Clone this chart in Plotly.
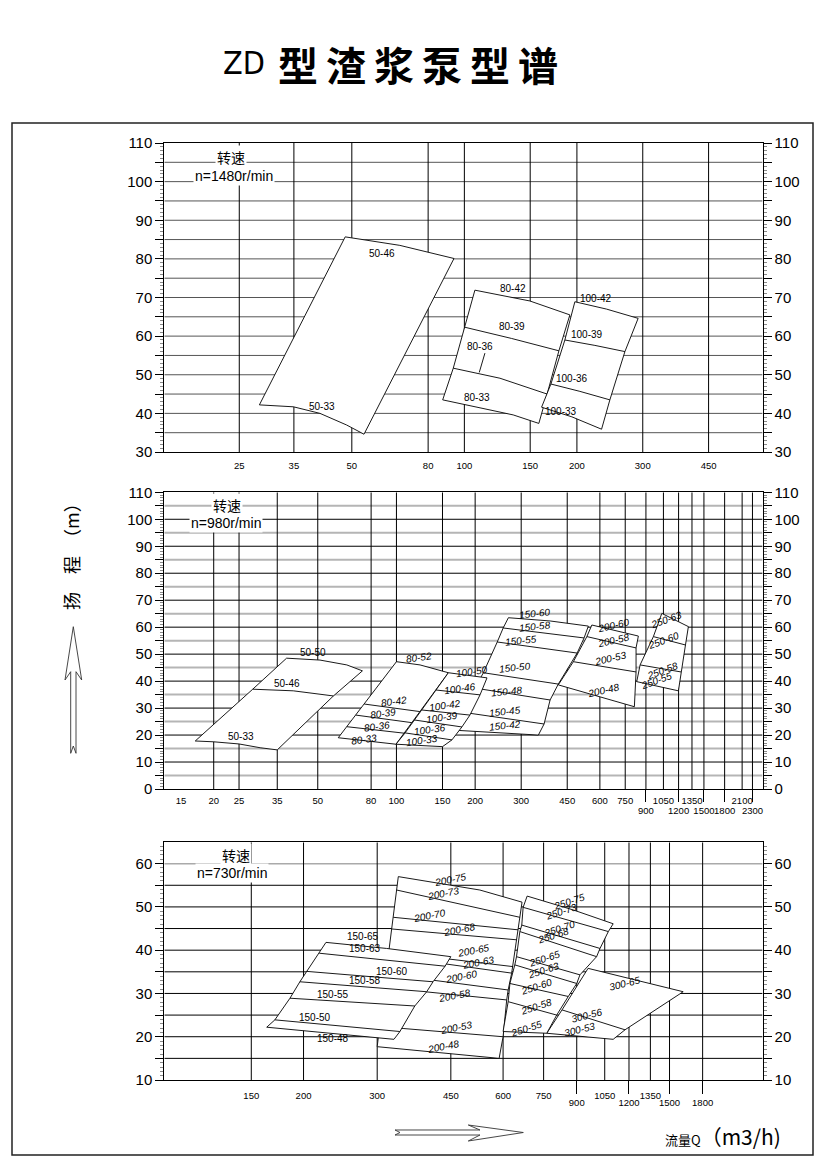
import math
import plotly.graph_objects as go

FIG_W, FIG_H = 827, 1170

# ---------------- axis ticks / grid values (Q in m3/h, H in m) ----------------
P1_TICKS = [25, 35, 50, 80, 100, 150, 200, 300, 450]
P1_GRID_Q = [25, 35, 50, 80, 100, 150, 200, 300, 450]
P2_TICKS_TOP = [15, 20, 25, 35, 50, 80, 100, 150, 200, 300, 450, 600, 750, 1050, 1350, 2100]
P2_TICKS_LOW = [900, 1200, 1500, 1800, 2300]
P2_GRID_Q = [20, 25, 35, 50, 80, 100, 150, 200, 300, 450, 600, 750, 900, 1050,
             1200, 1350, 1500, 1800, 2100, 2300]
P3_TICKS_TOP = [150, 200, 300, 450, 600, 750, 1050, 1350]
P3_TICKS_LOW = [900, 1200, 1500, 1800]
P3_GRID_Q = [150, 200, 300, 450, 600, 750, 900, 1050, 1200, 1350, 1500, 1800]

P1_H_TICKS = list(range(30, 111, 5))
P2_H_TICKS = list(range(0, 111, 5))
P3_H_TICKS = list(range(10, 61, 5))

# ---------------- n = 1480 r/min ----------------
P1_50 = {
    "50-46": ([48.0, 67.2, 93.8], [85.7, 83.5, 80.1]),
    "50-33": ([28.3, 34.9, 41.1, 48.4, 53.9], [42.2, 41.7, 40.0, 37.0, 34.6]),
}
P1_50_LABELS = [("50-46", 60.3, 81.3), ("50-33", 41.5, 41.9)]

P1_80 = {
    "80-42": ([106.7, 149.7, 191.5], [71.9, 69.1, 65.5]),
    "80-39": ([100.3, 133.7, 179.0], [62.3, 59.4, 56.2]),
    "80-36": ([93.4, 124.5, 166.5], [51.7, 49.1, 45.0]),
    "80-33": ([87.5, 100.3, 117.0, 135.1, 158.2], [43.5, 42.2, 40.9, 39.6, 37.4]),
}
P1_80_LABELS = [("80-42", 135.1, 72.4), ("80-39", 133.7, 62.6),
                ("80-36", 110.0, 57.3), ("80-33", 107.8, 44.2)]
P1_80_LEADER = ([113.5, 109.6], [55.6, 50.6])

P1_100 = {
    "100-42": ([197.5, 240.0, 291.6], [68.9, 67.0, 64.6]),
    "100-39": ([185.7, 223.4, 268.8], [59.0, 57.6, 56.0]),
    "100-36": ([170.4, 203.7, 245.0], [47.6, 45.7, 43.5]),
    "100-33": ([160.9, 193.9, 232.8], [41.6, 39.1, 35.9]),
}
P1_100_LABELS = [("100-42", 224.3, 69.8), ("100-39", 212.2, 60.5),
                 ("100-36", 193.5, 49.1), ("100-33", 180.9, 40.6)]

# ---------------- n = 980 r/min ----------------
P2_50 = {
    "50-50": ([38.0, 51.0, 64.6, 74.1], [48.5, 47.8, 46.0, 43.8]),
    "50-46": ([28.2, 40.3, 57.4], [37.0, 36.4, 34.5]),
    "50-33": ([17.0, 20.0, 25.0, 30.1, 35.0], [17.8, 17.5, 16.7, 15.3, 14.5]),
}
P2_50_LABELS = [("50-50", 47.8, 50.5), ("50-46", 38.0, 39.2), ("50-33", 25.4, 19.4)]

P2_80 = {
    "80-52": ([100.0, 123.1, 158.0], [47.2, 46.0, 43.1]),
    "80-42": ([75.3, 122.9], [31.5, 28.7]),
    "80-39": ([69.9, 114.5], [27.4, 24.6]),
    "80-36": ([64.6, 106.9], [23.1, 20.7]),
    "80-33": ([59.9, 99.6], [19.0, 16.6]),
}
P2_80_LABELS = [("80-52", 122.0, 48.6), ("80-42", 97.9, 32.4), ("80-39", 89.0, 28.1),
                ("80-36", 84.4, 23.1), ("80-33", 75.4, 18.5)]

P2_100 = {
    "100-50": ([158.0, 195.0, 222.0], [43.1, 41.9, 41.2]),
    "100-46": ([141.7, 208.8], [36.7, 34.9]),
    "100-42": ([124.9, 191.0], [29.3, 27.4]),
    "100-39": ([116.8, 178.0], [25.6, 23.0]),
    "100-36": ([107.9, 163.0], [20.8, 18.2]),
    "100-33": ([99.6, 150.0], [16.6, 15.7]),
}
P2_100_LABELS = [("100-50", 194.6, 43.4), ("100-46", 175.0, 37.3), ("100-42", 153.0, 31.1),
                 ("100-39", 149.0, 26.6), ("100-36", 134.4, 21.9), ("100-33", 125.0, 17.9)]

P2_150 = {
    "150-60": ([268.0, 387.0, 542.0], [63.5, 62.3, 60.4]),
    "150-58": ([256.0, 522.0], [59.7, 56.0]),
    "150-55": ([243.0, 491.0], [54.5, 50.4]),
    "150-50": ([215.0, 416.0], [43.1, 38.9]),
    "150-48": ([200.0, 387.0], [37.4, 33.0]),
    "150-45": ([178.0, 367.0], [28.5, 24.1]),
    "150-42": ([160.0, 349.0], [21.9, 20.0]),
}
P2_150_LABELS = [("150-60", 339.0, 64.9), ("150-58", 339.0, 60.2), ("150-55", 300.0, 55.2),
                 ("150-50", 284.0, 45.0), ("150-48", 264.0, 36.1), ("150-45", 260.0, 28.7),
                 ("150-42", 260.0, 23.7)]

P2_200 = {
    "200-60": ([559.0, 842.0], [60.8, 56.7]),
    "200-58": ([535.0, 825.0], [56.5, 52.3]),
    "200-53": ([475.0, 825.0], [47.2, 43.4]),
    "200-48": ([416.0, 813.0], [38.6, 30.5]),
}
P2_200_LABELS = [("200-60", 676.0, 60.8), ("200-58", 676.0, 55.2),
                 ("200-53", 656.0, 48.5), ("200-48", 619.0, 36.7)]

P2_250 = {
    "250-63": ([1035.0, 1308.0], [65.1, 60.2]),
    "250-60": ([961.0, 1275.0], [56.5, 53.4]),
    "250-58": ([855.0, 1226.0], [46.0, 43.4]),
    "250-55": ([830.0, 1198.0], [39.8, 36.4]),
}
P2_250_LABELS = [("250-63", 1082.0, 62.7), ("250-60", 1050.0, 55.2),
                 ("250-58", 1044.0, 44.1), ("250-55", 990.0, 40.4)]

# ---------------- n = 730 r/min ----------------
P3_150 = {
    "150-65": ([226.3, 316.0, 450.0], [41.8, 40.4, 38.5]),
    "150-63": ([218.0, 436.0], [39.3, 36.3]),
    "150-60": ([203.5, 408.0], [35.1, 32.7]),
    "150-58": ([196.0, 394.0], [32.7, 30.4]),
    "150-55": ([185.6, 369.0], [28.9, 27.1]),
    "150-50": ([170.8, 340.0], [23.9, 21.2]),
    "150-48": ([163.3, 329.0], [22.2, 19.4]),
}
P3_150_LABELS = [("150-65", 278.0, 43.1), ("150-63", 280.5, 40.4), ("150-60", 325.0, 35.0),
                 ("150-58", 280.5, 33.1), ("150-55", 235.5, 29.8), ("150-50", 213.0, 24.5),
                 ("150-48", 235.5, 19.6)]

P3_200 = {
    "200-75": ([337.0, 528.0, 666.0], [57.0, 53.9, 51.1]),
    "200-73": ([333.9, 658.0], [53.9, 47.6]),
    "200-70": ([327.8, 652.0], [47.6, 44.7]),
    "200-68": ([325.0, 646.0], [44.9, 42.4]),
    "200-65": ([318.6, 432.0, 634.0], [38.5, 38.1, 36.2]),
    "200-63": ([317.6, 424.0, 629.0], [37.4, 37.0, 34.7]),
    "200-60": ([314.0, 405.0, 617.0], [33.5, 33.1, 30.8]),
    "200-58": ([311.5, 390.0, 612.0], [30.8, 30.4, 28.5]),
    "200-53": ([303.7, 346.0, 600.0], [22.3, 21.9, 20.0]),
    "200-48": ([300.0, 587.0], [17.7, 15.0]),
}
P3_200_LABELS = [("200-75", 450.0, 56.4), ("200-73", 432.0, 53.1), ("200-70", 401.0, 48.1),
                 ("200-68", 473.0, 44.8), ("200-65", 509.0, 40.0), ("200-63", 523.0, 37.1),
                 ("200-60", 478.0, 33.9), ("200-58", 460.0, 29.6), ("200-53", 465.0, 22.1),
                 ("200-48", 432.0, 17.7)]

P3_250 = {
    "250-75": ([685.0, 883.0, 1100.0], [52.5, 49.3, 46.1]),
    "250-73": ([670.0, 1071.0], [49.9, 44.3]),
    "250-70": ([665.0, 1023.0], [45.8, 40.4]),
    "250-68": ([658.0, 1004.0], [44.3, 38.5]),
    "250-65": ([646.0, 916.0], [38.5, 34.3]),
    "250-63": ([640.0, 900.0], [36.6, 32.3]),
    "250-60": ([623.0, 859.0], [32.3, 29.3]),
    "250-58": ([617.0, 806.0], [28.1, 25.0]),
    "250-55": ([600.0, 763.0], [21.2, 20.8]),
}
P3_250_LABELS = [("250-75", 867.0, 51.2), ("250-73", 828.0, 48.9), ("250-70", 820.0, 45.1),
                 ("250-68", 791.0, 43.3), ("250-65", 755.0, 38.1), ("250-63", 748.0, 35.4),
                 ("250-60", 722.0, 31.7), ("250-58", 722.0, 26.9), ("250-55", 683.0, 21.9)]

P3_300 = {
    "300-65": ([958.0, 1617.0], [35.8, 30.4]),
    "300-56": ([830.0, 1174.0], [26.2, 21.6]),
    "300-53": ([763.0, 1100.0], [20.8, 19.4]),
}
P3_300_LABELS = [("300-65", 1174.0, 32.3), ("300-56", 951.0, 25.0), ("300-53", 916.0, 21.6)]

# ---------------- layout geometry ----------------
X_DOM = [164.3 / FIG_W, 762.6 / FIG_W]
PANELS = {
    1: dict(x="x", y="y", yr="y4", xlow=None, xr=[1.19741, 2.79770], yrng=[30, 110],
            ydom=[1 - 452 / FIG_H, 1 - 143 / FIG_H]),
    2: dict(x="x2", y="y2", yr="y5", xlow="x4", xr=[1.11205, 3.40050], yrng=[0, 110],
            ydom=[1 - 789 / FIG_H, 1 - 492.3 / FIG_H]),
    3: dict(x="x3", y="y3", yr="y6", xlow="x5", xr=[1.96810, 3.39865], yrng=[10, 64.93],
            ydom=[1 - 1080 / FIG_H, 1 - 842.3 / FIG_H]),
}

NUM_FONT = "Liberation Sans, Arial, sans-serif"
CJK_FONT = "Noto Sans CJK SC, sans-serif"

fig = go.Figure()


def line_trace(xs, ys, xa, ya, color="black", width=1.0):
    fig.add_trace(go.Scatter(x=xs, y=ys, mode="lines", xaxis=xa, yaxis=ya,
                             line=dict(color=color, width=width),
                             hoverinfo="skip", showlegend=False))


def vgrid(p, qs, color="black", width=1.0):
    P = PANELS[p]
    xs, ys = [], []
    for q in qs:
        xs += [q, q, None]
        ys += [P["yrng"][0], P["yrng"][1], None]
    line_trace(xs, ys, P["x"], P["y"], color, width)


def hgrid(p, hs, color="black", width=1.0):
    P = PANELS[p]
    lo, hi = 10 ** P["xr"][0], 10 ** P["xr"][1]
    xs, ys = [], []
    for h in hs:
        xs += [lo, hi, None]
        ys += [h, h, None]
    line_trace(xs, ys, P["x"], P["y"], color, width)


def family(p, curves, labels, angle=0, italic=False):
    P = PANELS[p]
    cs = list(curves.values())
    top, bot, mids = cs[0], cs[-1], cs[1:-1]
    ox = list(top[0]) + [c[0][-1] for c in mids] + list(bot[0])[::-1] + \
        [c[0][0] for c in mids[::-1]] + [top[0][0]]
    oy = list(top[1]) + [c[1][-1] for c in mids] + list(bot[1])[::-1] + \
        [c[1][0] for c in mids[::-1]] + [top[1][0]]
    fig.add_trace(go.Scatter(x=ox, y=oy, mode="lines", fill="toself", fillcolor="white",
                             line=dict(color="black", width=0.9), xaxis=P["x"], yaxis=P["y"],
                             hoverinfo="skip", showlegend=False))
    for c in mids:
        line_trace(c[0], c[1], P["x"], P["y"], "black", 0.9)
    for text, q, h in labels:
        fig.add_annotation(x=math.log10(q), y=h, xref=P["x"], yref=P["y"], text=text,
                           showarrow=False, textangle=angle,
                           font=dict(family=NUM_FONT, size=10, color="black",
                                     style="italic" if italic else "normal"))


# ---------- gridlines ----------
hgrid(1, [h for h in P1_H_TICKS if 30 < h < 110], "#555555", 1.0)
vgrid(1, P1_GRID_Q)
hgrid(2, [h for h in P2_H_TICKS if h % 10 == 5], "#b5b5b5", 2.0)
hgrid(2, [h for h in P2_H_TICKS if h % 10 == 0 and 0 < h < 110], "black", 1.0)
vgrid(2, P2_GRID_Q)
hgrid(3, [h for h in P3_H_TICKS if 10 < h < 60], "black", 1.0)
hgrid(3, [60], "#aaaaaa", 1.5)
vgrid(3, P3_GRID_Q)

# ---------- pump regions ----------
family(1, P1_50, P1_50_LABELS)
family(1, P1_80, P1_80_LABELS)
line_trace(P1_80_LEADER[0], P1_80_LEADER[1], "x", "y", "black", 0.9)
family(1, P1_100, P1_100_LABELS)

family(2, P2_50, P2_50_LABELS)
family(2, P2_80, P2_80_LABELS, angle=-8, italic=True)
family(2, P2_150, P2_150_LABELS, angle=-6, italic=True)
family(2, P2_100, P2_100_LABELS, angle=-8, italic=True)
family(2, P2_200, P2_200_LABELS, angle=-13, italic=True)
family(2, P2_250, P2_250_LABELS, angle=-20, italic=True)

family(3, P3_200, P3_200_LABELS, angle=-11, italic=True)
family(3, P3_150, P3_150_LABELS)
family(3, P3_300, P3_300_LABELS, angle=-14, italic=True)
family(3, P3_250, P3_250_LABELS, angle=-18, italic=True)

# dummy traces so that overlay axes are rendered
for xa, ya in [("x", "y4"), ("x2", "y5"), ("x3", "y6"), ("x4", "y2"), ("x5", "y3")]:
    fig.add_trace(go.Scatter(x=[None], y=[None], xaxis=xa, yaxis=ya, showlegend=False,
                             hoverinfo="skip"))

# ---------- axes ----------
tickfont_y = dict(family=NUM_FONT, size=15, color="black")
tickfont_x = dict(family=NUM_FONT, size=9.5, color="black")
minor = dict(dtick=1, tick0=0, ticks="outside", ticklen=3, tickcolor="#8a8a8a", tickwidth=1,
             showgrid=False)

layout_axes = {}
h_ticks = {1: P1_H_TICKS, 2: P2_H_TICKS, 3: P3_H_TICKS}
x_top = {1: P1_TICKS, 2: P2_TICKS_TOP, 3: P3_TICKS_TOP}
x_low = {2: P2_TICKS_LOW, 3: P3_TICKS_LOW}
standoff = {1: 5, 2: 3, 3: 7}
for i, P in PANELS.items():
    xk = "xaxis" if i == 1 else "xaxis%d" % i
    yk = "yaxis" if i == 1 else "yaxis%d" % i
    yrk = "yaxis%d" % (i + 3)
    hv = h_ticks[i]
    ht = [str(h) if h % 10 == 0 else "" for h in hv]
    layout_axes[xk] = dict(type="log", range=P["xr"], domain=X_DOM, anchor=P["y"],
                           tickmode="array", tickvals=x_top[i], ticktext=[str(v) for v in x_top[i]],
                           ticks="", showgrid=False, zeroline=False, showline=True, mirror=True,
                           linecolor="black", linewidth=1, tickfont=tickfont_x, tickangle=0,
                           ticklabelstandoff=standoff[i], fixedrange=True, automargin=False)
    layout_axes[yk] = dict(range=P["yrng"], domain=P["ydom"], anchor=P["x"],
                           tickmode="array", tickvals=hv, ticktext=ht, ticks="outside",
                           ticklen=8, tickcolor="black", tickwidth=1, showgrid=False,
                           zeroline=False, showline=True, mirror=True, linecolor="black",
                           linewidth=1, tickfont=tickfont_y, minor=minor, fixedrange=True,
                           automargin=False)
    layout_axes[yrk] = dict(range=P["yrng"], overlaying=P["y"], side="right", anchor=P["x"],
                            tickmode="array", tickvals=hv, ticktext=ht, ticks="outside",
                            ticklen=8, tickcolor="black", tickwidth=1, showgrid=False,
                            zeroline=False, showline=False, tickfont=tickfont_y, minor=minor,
                            fixedrange=True, automargin=False)
    if P["xlow"]:
        lk = "xaxis%d" % int(P["xlow"][1:])
        layout_axes[lk] = dict(type="log", range=P["xr"], overlaying=P["x"], anchor=P["y"],
                               side="bottom", tickmode="array", tickvals=x_low[i],
                               ticktext=[str(v) for v in x_low[i]], ticks="outside",
                               ticklen=12 if i == 2 else 13, tickcolor="black", tickwidth=1,
                               showgrid=False, zeroline=False, showline=False, tickangle=0,
                               tickfont=tickfont_x, ticklabelstandoff=1, fixedrange=True,
                               automargin=False)

fig.update_layout(**layout_axes)


def px(xp, yp):
    return xp / FIG_W, 1 - yp / FIG_H


def paper_path(points):
    s = ""
    for k, (a, b) in enumerate(points):
        u, v = px(a, b)
        s += ("M" if k == 0 else " L") + " %.5f %.5f" % (u, v)
    return s + " Z"


shapes = [
    dict(type="rect", xref="paper", yref="paper", x0=12 / FIG_W, x1=813 / FIG_W,
         y0=1 - 1155 / FIG_H, y1=1 - 123 / FIG_H, line=dict(color="#222222", width=1.5)),
    dict(type="path", xref="paper", yref="paper", line=dict(color="#333333", width=0.9),
         path=paper_path([(73.3, 626.7), (81.7, 680), (76, 671.7), (76, 753.3), (73.3, 746),
                          (70.7, 753.3), (70.7, 671.7), (65, 680)])),
    dict(type="path", xref="paper", yref="paper", line=dict(color="#333333", width=0.9),
         path=paper_path([(395, 1130), (480, 1130), (468.3, 1125), (523.3, 1132.5),
                          (468.3, 1141), (480, 1135), (395, 1135), (400, 1132.5)])),
]

ann = []


def paper_text(text, xp, yp, size, family, xanchor="center", angle=0, bg=None):
    u, v = px(xp, yp)
    d = dict(x=u, y=v, xref="paper", yref="paper", text=text, showarrow=False,
             xanchor=xanchor, yanchor="middle", textangle=angle,
             font=dict(family=family, size=size, color="black"))
    if bg:
        d["bgcolor"] = bg
    ann.append(d)


paper_text("ZD", 244, 63, 32, "Liberation Sans Narrow, DejaVu Sans Condensed, sans-serif")
paper_text("<b>型\u2009渣\u2009浆\u2009泵\u2009型\u2009谱</b>", 418, 64, 40, CJK_FONT)
paper_text("转速", 231.3, 157, 14, CJK_FONT, bg="white")
paper_text("n=1480r/min", 233.7, 175.5, 14, NUM_FONT, bg="white")
paper_text("转速", 226.7, 505, 14, CJK_FONT, bg="white")
paper_text("n=980r/min", 225.7, 522.7, 14, NUM_FONT, bg="white")
paper_text("转速", 235.7, 855, 14, CJK_FONT, bg="white")
paper_text("n=730r/min", 232.3, 872.7, 14, NUM_FONT, bg="white")
paper_text("扬\u3000程\u3000（m）", 71, 552, 18, CJK_FONT, angle=-90)
paper_text("<span style='font-size:13px'>流量Q</span>（m3/h)", 783, 1136, 21, CJK_FONT,
           xanchor="right")

for a in ann:
    fig.add_annotation(**a)

fig.update_layout(width=FIG_W, height=FIG_H, margin=dict(l=0, r=0, t=0, b=0, autoexpand=False),
                  paper_bgcolor="white", plot_bgcolor="white", shapes=shapes,
                  showlegend=False)

fig.write_html("out.html")
